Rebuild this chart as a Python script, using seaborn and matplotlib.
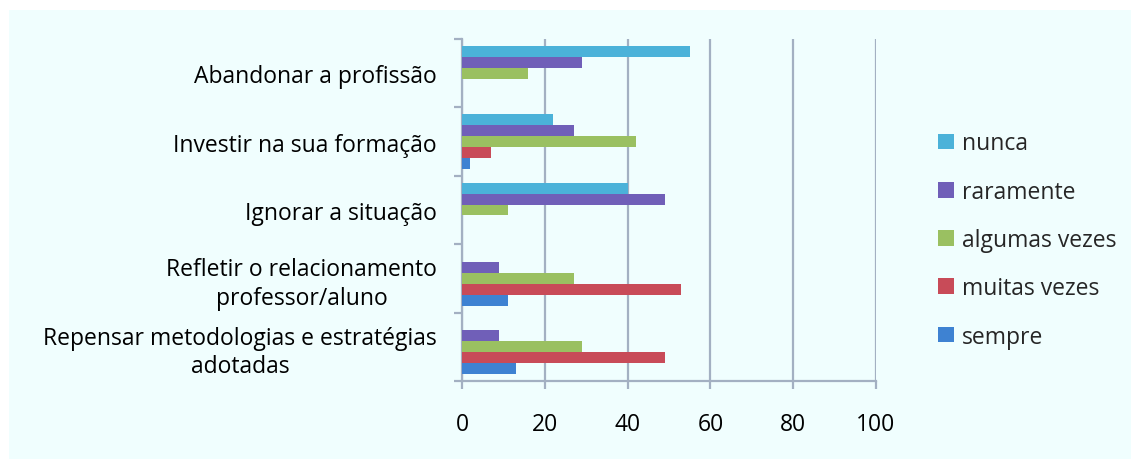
import pandas as pd
import numpy as np
import matplotlib
matplotlib.use('Agg')
import matplotlib.pyplot as plt
import seaborn as sns
from matplotlib.patches import Rectangle

# data
itens = ['Abandonar a profissão',
         'Investir na sua formação',
         'Ignorar a situação',
         'Refletir o relacionamento\nprofessor/aluno',
         'Repensar metodologias e estratégias\nadotadas']
frequencias = ['nunca', 'raramente', 'algumas vezes', 'muitas vezes', 'sempre']

nunca = [55, 22, 40, 0, 0]
raramente = [29, 27, 49, 9, 9]
algumas_vezes = [16, 42, 11, 27, 29]
muitas_vezes = [0, 7, 0, 53, 49]
sempre = [0, 2, 0, 11, 13]

cores = ['#4BB2D9', '#705FB8', '#9AC061', '#C84B58', '#3E82D2']

series = [nunca, raramente, algumas_vezes, muitas_vezes, sempre]
rows = []
for f, vals in zip(frequencias, series):
    for item, v in zip(itens, vals):
        rows.append({'item': item, 'freq': f, 'valor': v})
df = pd.DataFrame(rows)

sns.set_theme(style='white')
plt.rcParams['font.family'] = ['Open Sans', 'DejaVu Sans']
fs = 16.5

bg = '#F0FEFE'
grid_c = '#A3B0C2'

fig = plt.figure(figsize=(11.31, 4.6), dpi=100, facecolor='white')
fig.patches.append(Rectangle((9 / 1131, 0), 1, 1 - 11 / 460, transform=fig.transFigure,
                             facecolor=bg, edgecolor='none', zorder=-10))
ax = fig.add_axes([462 / 1131, 1 - 382 / 460, (876 - 462) / 1131, (382 - 40) / 460])
ax.set_facecolor(bg)

sns.barplot(data=df, y='item', x='valor', hue='freq', orient='h',
            order=itens, hue_order=frequencias, palette=cores,
            width=0.8, saturation=1, ax=ax, errorbar=None, zorder=3,
            linewidth=0, edgecolor='none')

ax.set_xlim(0, 100)
ax.set_xticks(np.arange(0, 101, 20))
ax.set_ylim(4.5, -0.5)
ax.set_xlabel('')
ax.set_ylabel('')

ax.grid(axis='x', color=grid_c, linewidth=1.6, zorder=0)
for s in ['top', 'right']:
    ax.spines[s].set_visible(False)
for s in ['left', 'bottom']:
    ax.spines[s].set_color(grid_c)
    ax.spines[s].set_linewidth(1.6)

ax.tick_params(axis='x', which='major', direction='out', length=6, width=1.6,
               color=grid_c, pad=16, labelsize=fs, labelcolor='black', bottom=True)
ax.set_yticks(np.arange(-0.5, 5, 1), minor=True)
ax.tick_params(axis='y', which='minor', direction='out', length=6, width=1.6,
               color=grid_c, left=True)
ax.tick_params(axis='y', which='major', length=0, pad=18, labelsize=fs, labelcolor='black')
for lbl in ax.get_yticklabels():
    lbl.set_multialignment('center')
    lbl.set_linespacing(1.25)

handles, labels = ax.get_legend_handles_labels()
ax.get_legend().remove()
fig.legend(handles, labels, loc='center left', bbox_to_anchor=(938 / 1131, 1 - 241 / 460),
           frameon=False, fontsize=fs, labelspacing=1.06, handlelength=0.68,
           handleheight=0.68, handletextpad=0.35, borderpad=0, borderaxespad=0)

fig.savefig('out.png', dpi=100, facecolor='white')
